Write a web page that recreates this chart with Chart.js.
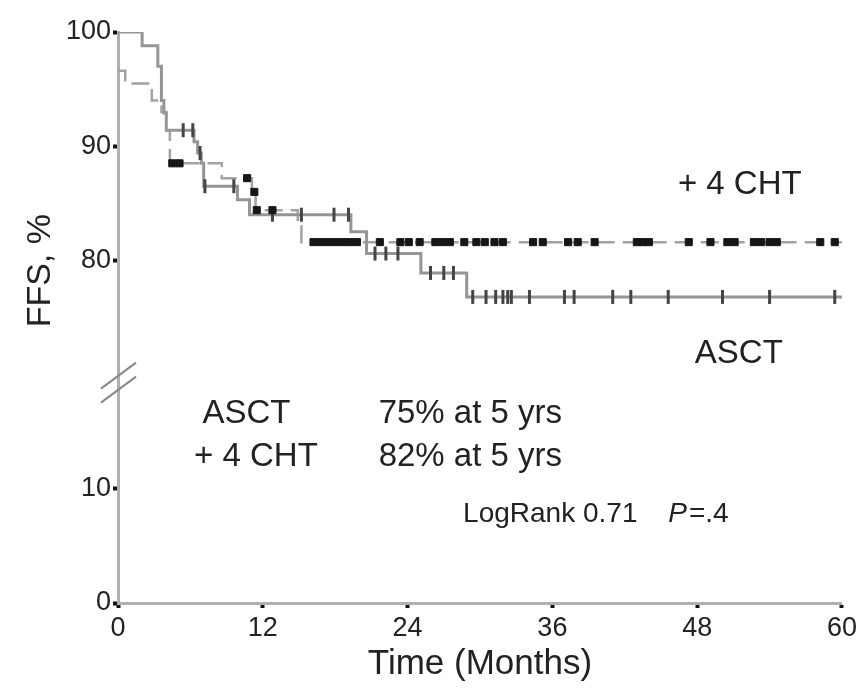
<!DOCTYPE html>
<html>
<head>
<meta charset="utf-8">
<script src="https://cdn.jsdelivr.net/npm/chart.js@4/dist/chart.umd.min.js"></script>
<style>
  html, body { margin: 0; padding: 0; background: #fff; }
  #wrap { width: 861px; height: 689px; }
</style>
</head>
<body>
<div id="wrap"><canvas id="ffsChart" width="861" height="689"></canvas></div>
<script>
// Kaplan-Meier steps: time (months) where the curve drops, and FFS % after the drop
const asctTimes = [0, 2.0, 3.3, 3.6, 3.8, 4.0, 6.3, 6.6, 6.9, 7.1, 9.9, 10.9, 19.3, 20.6, 25.1, 28.9, 60];
const asctFfs   = [100, 98.8, 97.0, 94.0, 92.9, 91.4, 90.4, 89.4, 88.5, 86.5, 85.3, 84.0, 82.5, 80.6, 78.9, 76.8, 76.8];
const chtTimes  = [0, 0.6, 2.8, 3.6, 4.0, 4.3, 8.6, 11.1, 11.4, 14.9, 15.2, 60];
const chtFfs    = [96.6, 95.5, 94.0, 93.0, 91.4, 88.5, 87.2, 86.0, 84.4, 83.0, 81.6, 81.6];

// censored patients (months)
const asctCensored = [5.4, 6.2, 6.8, 7.2, 9.6, 12.8, 15.2, 17.9, 19.1, 21.3, 22.2, 23.2, 25.9, 27.0, 27.8,
  29.4, 30.5, 31.3, 31.9, 32.3, 32.6, 34.1, 37.0, 37.8, 41.0, 42.5, 45.6, 50.1, 54.0, 59.4];
const chtCensored = [4.5, 5.1, 10.7, 11.3, 11.5, 12.8, 16.2, 16.8, 17.4, 18.0, 18.6, 19.2, 19.8, 21.7,
  23.4, 24.1, 25.0, 26.3, 26.9, 27.5, 28.7, 29.7, 30.4, 31.2, 31.9, 34.4, 35.2, 37.3, 38.1, 39.5,
  43.0, 43.5, 44.0, 47.3, 49.1, 50.5, 51.1, 52.7, 53.3, 54.0, 54.6, 58.2, 59.4];

const xTicks = [0, 12, 24, 36, 48, 60];
const yTickLabels = [0, 10, 80, 90, 100];

// broken y axis: 0-20 shown as is, 70-100 shifted down by 50
const BREAK_SHIFT = 50;
const toAxis = v => (v >= 50 ? v - BREAK_SHIFT : v);
const fromAxis = v => (v >= 20 ? v + BREAK_SHIFT : v);

function stepCurve(times, values) {
  return times.map((t, i) => ({ x: t, y: toAxis(values[i]) }));
}

function valueAt(times, values, t) {
  let v = values[0];
  for (let i = 0; i < times.length; i++) {
    if (times[i] <= t) v = values[i];
  }
  return v;
}

function censorPoints(censored, times, values) {
  return censored.map(t => ({ x: t, y: toAxis(valueAt(times, values, t)) }));
}

const FONT = "'Liberation Sans', Arial, sans-serif";
const INK = '#222';

// text blocks, positioned in data units (months, axis units)
const notes = [
  { text: '+ 4 CHT', x: 46.4, y: 36.6 },
  { text: 'ASCT', x: 47.8, y: 21.8 },
  { text: 'ASCT', x: 7.0, y: 16.6 },
  { text: '75% at 5 yrs', x: 21.6, y: 16.6 },
  { text: '+ 4 CHT', x: 6.3, y: 12.8 },
  { text: '82% at 5 yrs', x: 21.6, y: 12.8 },
  { text: 'LogRank 0.71', x: 28.6, y: 7.8, size: 28 },
];

const overlay = {
  id: 'overlay',
  afterDraw(chart) {
    const { ctx, scales: { x, y } } = chart;
    ctx.save();
    ctx.fillStyle = INK;
    ctx.textBaseline = 'middle';
    notes.forEach(n => {
      ctx.font = `${n.size || 33}px ${FONT}`;
      ctx.fillText(n.text, x.getPixelForValue(n.x), y.getPixelForValue(n.y));
    });
    // P value, italic P
    const px = x.getPixelForValue(45.6), py = y.getPixelForValue(7.8);
    ctx.font = `italic 28px ${FONT}`;
    ctx.fillText('P', px, py);
    const pw = ctx.measureText('P').width;
    ctx.font = `28px ${FONT}`;
    ctx.fillText('=.4', px + pw + 2, py);

    // y axis title
    ctx.save();
    ctx.translate(41, y.getPixelForValue(29.1));
    ctx.rotate(-Math.PI / 2);
    ctx.textAlign = 'center';
    ctx.font = `34px ${FONT}`;
    ctx.fillText('FFS, %', 0, 0);
    ctx.restore();

    // axis break marks
    const ax = x.left;
    const yb = y.getPixelForValue(19.3);
    ctx.strokeStyle = '#888';
    ctx.lineWidth = 2;
    [-7, 7].forEach(d => {
      ctx.beginPath();
      ctx.moveTo(ax - 17, yb + d + 13);
      ctx.lineTo(ax + 18, yb + d - 13);
      ctx.stroke();
    });
    ctx.restore();
  }
};

new Chart(document.getElementById('ffsChart'), {
  type: 'line',
  data: {
    datasets: [
      {
        label: 'ASCT',
        data: stepCurve(asctTimes, asctFfs),
        stepped: 'before',
        borderColor: '#959595',
        borderWidth: 3,
        pointRadius: 0,
        fill: false,
        order: 2
      },
      {
        label: '+ 4 CHT',
        data: stepCurve(chtTimes, chtFfs),
        stepped: 'before',
        borderColor: '#a3a3a3',
        borderWidth: 2.5,
        borderDash: [18, 8],
        pointRadius: 0,
        fill: false,
        order: 2
      },
      {
        label: 'ASCT censored',
        data: censorPoints(asctCensored, asctTimes, asctFfs),
        showLine: false,
        pointStyle: 'line',
        rotation: 90,
        pointRadius: 7,
        pointBorderWidth: 3,
        pointBorderColor: '#444',
        order: 1
      },
      {
        label: '+ 4 CHT censored',
        data: censorPoints(chtCensored, chtTimes, chtFfs),
        showLine: false,
        pointStyle: 'rect',
        pointRadius: 5,
        pointBorderWidth: 1,
        pointBorderColor: '#161616',
        pointBackgroundColor: '#161616',
        order: 0
      }
    ]
  },
  options: {
    responsive: false,
    animation: false,
    layout: { padding: { top: 32, right: 15, left: 0, bottom: 0 } },
    plugins: {
      legend: { display: false },
      tooltip: { enabled: false }
    },
    scales: {
      x: {
        type: 'linear',
        min: 0,
        max: 60,
        afterBuildTicks: s => { s.ticks = xTicks.map(v => ({ value: v })); },
        afterFit: s => { s.height = 86; },
        grid: { drawOnChartArea: false, tickLength: 5, tickWidth: 4, tickColor: '#111' },
        border: { color: '#b0b0b0', width: 3 },
        ticks: { color: INK, font: { family: FONT, size: 27 }, padding: 4, maxRotation: 0 },
        title: { display: true, text: 'Time (Months)', color: INK, font: { family: FONT, size: 35 }, padding: { top: 2 } }
      },
      y: {
        type: 'linear',
        min: 0,
        max: 50,
        afterBuildTicks: s => { s.ticks = yTickLabels.map(v => ({ value: toAxis(v) })); },
        afterFit: s => { s.width = 118; },
        grid: { drawOnChartArea: false, tickLength: 5, tickWidth: 4, tickColor: '#111' },
        border: { color: '#b0b0b0', width: 3 },
        ticks: { color: INK, font: { family: FONT, size: 27 }, padding: 2, callback: v => fromAxis(v) }
      }
    }
  },
  plugins: [overlay]
});
</script>
</body>
</html>
